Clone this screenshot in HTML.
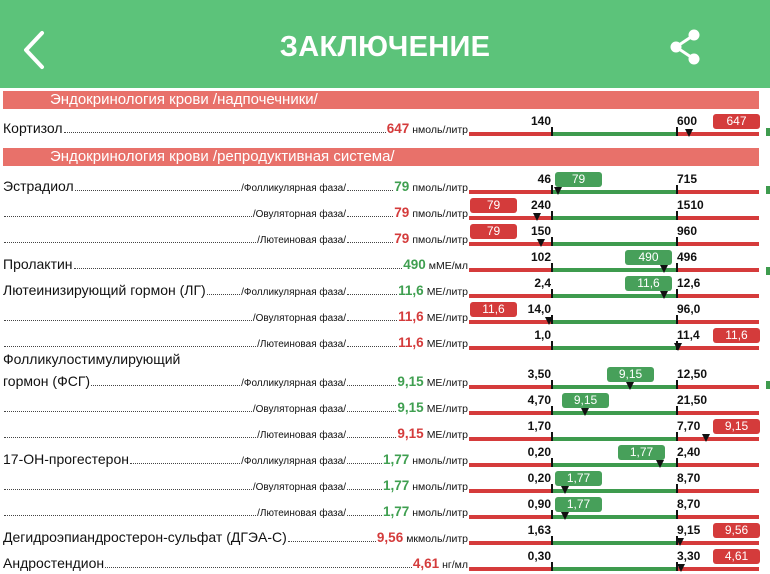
<!DOCTYPE html>
<html><head><meta charset="utf-8">
<style>
*{margin:0;padding:0;box-sizing:border-box}
body{width:770px;height:574px;overflow:hidden;background:#fff;font-family:"Liberation Sans",sans-serif;position:relative;color:#111}
.hdr{position:absolute;left:0;top:0;width:770px;height:88px;background:#5cc37a}
.title{position:absolute;left:0;width:770px;top:31px;text-align:center;color:#fff;font-size:29px;font-weight:bold;letter-spacing:0.3px}
.ban{position:absolute;left:3px;width:756px;height:18px;background:#e8716a;color:#fff;font-size:15px;line-height:18px;padding-left:47px}
.row{position:absolute;left:3px;width:465px;height:16px;display:flex;align-items:flex-end;white-space:nowrap}
.nm{font-size:14px}
.ph{font-size:10px}
.dots{flex:1;border-bottom:1px dotted #444;margin:0 1px 3px 1px}
.val{font-size:13.5px;font-weight:bold}
.un{font-size:10.5px;margin-left:3px}
.r{color:#d43b3b}.g{color:#3f9f50}
.bar{position:absolute;height:4px}
.tk{position:absolute;width:2px;height:9px;background:#111}
.lab{position:absolute;font-size:12px;font-weight:bold}
.box{position:absolute;width:47px;height:15px;border-radius:3px;color:#fff;font-size:12px;text-align:center;line-height:15px}
.mk{position:absolute;width:0;height:0;border-left:4px solid transparent;border-right:4px solid transparent;border-top:8px solid #111}
</style></head><body>
<div class="hdr">
<svg style="position:absolute;left:20px;top:30px" width="30" height="40"><polyline points="22,3 6,20 22,37" fill="none" stroke="#fff" stroke-width="4" stroke-linecap="round" stroke-linejoin="round"/></svg>
<div class="title">ЗАКЛЮЧЕНИЕ</div>
<svg style="position:absolute;left:668px;top:28px" width="36" height="38"><g fill="#fff"><circle cx="26" cy="7" r="5.5"/><circle cx="8" cy="19" r="5.5"/><circle cx="26" cy="31" r="5.5"/></g><polyline points="26,7 8,19 26,31" fill="none" stroke="#fff" stroke-width="3"/></svg>
</div>
<div class="ban" style="top:91px">Эндокринология крови /надпочечники/</div>
<div class="ban" style="top:148px">Эндокринология крови /репродуктивная система/</div>
<div id="c"></div>
<script>
var R=[
[132,"Кортизол","","647","r","нмоль/литр","140","600",689,713,"r"],
[190,"Эстрадиол","/Фолликулярная фаза/","79","g","пмоль/литр","46","715",558,555,"g"],
[216,"","/Овуляторная фаза/","79","r","пмоль/литр","240","1510",537,470,"r"],
[242,"","/Лютеиновая фаза/","79","r","пмоль/литр","150","960",541,470,"r"],
[268,"Пролактин","","490","g","мМЕ/мл","102","496",664,625,"g"],
[294,"Лютеинизирующий гормон (ЛГ)","/Фолликулярная фаза/","11,6","g","МЕ/литр","2,4","12,6",664,625,"g"],
[320,"","/Овуляторная фаза/","11,6","r","МЕ/литр","14,0","96,0",549,470,"r"],
[346,"","/Лютеиновая фаза/","11,6","r","МЕ/литр","1,0","11,4",678,713,"r"],
[385,"гормон (ФСГ)","/Фолликулярная фаза/","9,15","g","МЕ/литр","3,50","12,50",630,607,"g"],
[411,"","/Овуляторная фаза/","9,15","g","МЕ/литр","4,70","21,50",585,562,"g"],
[437,"","/Лютеиновая фаза/","9,15","r","МЕ/литр","1,70","7,70",706,713,"r"],
[463,"17-ОН-прогестерон","/Фолликулярная фаза/","1,77","g","нмоль/литр","0,20","2,40",660,618,"g"],
[489,"","/Овуляторная фаза/","1,77","g","нмоль/литр","0,20","8,70",565,555,"g"],
[515,"","/Лютеиновая фаза/","1,77","g","нмоль/литр","0,90","8,70",565,555,"g"],
[541,"Дегидроэпиандростерон-сульфат (ДГЭА-С)","","9,56","r","мкмоль/литр","1,63","9,15",680,713,"r"],
[567,"Андростендион","","4,61","r","нг/мл","0,30","3,30",681,713,"r"]];
var h="";
R.forEach(function(a){
var y=a[0],t=y-12;
var left='<span class="nm">'+a[1]+'</span><span class="dots"></span>';
if(a[2]){left='<div style="width:343px;display:flex;align-items:flex-end">'+left+'<span class="ph">'+a[2]+'</span></div><span class="dots"></span>';}
h+='<div class="row" style="top:'+t+'px">'+left+'<span class="val '+a[4]+'">'+a[3]+'</span><span class="un">'+a[5]+'</span></div>';
h+='<div class="bar" style="left:469px;width:84px;top:'+y+'px;background:#d53b3b"></div>';
h+='<div class="bar" style="left:553px;width:124px;top:'+y+'px;background:#3e9b4e"></div>';
h+='<div class="bar" style="left:677px;width:82px;top:'+y+'px;background:#d53b3b"></div>';
h+='<div class="tk" style="left:551px;top:'+(y-5)+'px"></div><div class="tk" style="left:676px;top:'+(y-5)+'px"></div>';
h+='<div class="lab" style="right:'+(770-551)+'px;top:'+(y-18)+'px">'+a[6]+'</div>';
h+='<div class="lab" style="left:677px;top:'+(y-18)+'px">'+a[7]+'</div>';
var bg=a[10]=="r"?"#d43b3b":"#47a05a";
h+='<div class="box" style="left:'+a[9]+'px;top:'+(y-18)+'px;background:'+bg+'">'+a[3]+'</div>';
h+='<div class="mk" style="left:'+(a[8]-4)+'px;top:'+(y-3)+'px"></div>';
});
h+='<div class="nm" style="position:absolute;left:3px;top:351px;font-size:14px">Фолликулостимулирующий</div>';
[128,186,267,381].forEach(function(y){h+='<div style="position:absolute;left:766px;top:'+y+'px;width:4px;height:8px;background:#3e9b4e"></div>';});
document.getElementById("c").innerHTML=h;
</script>
</body></html>
